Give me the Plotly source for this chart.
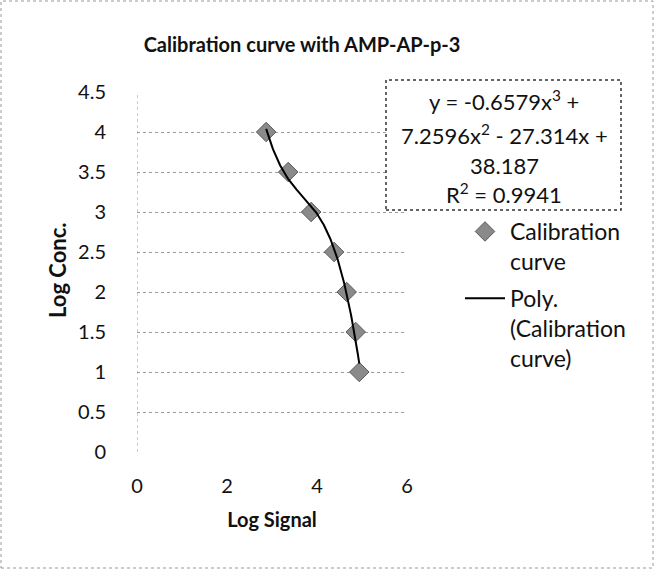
import numpy as np
import plotly.graph_objects as go

log_signal = [2.87, 3.36, 3.87, 4.38, 4.66, 4.86, 4.94]
log_conc = [4.0, 3.5, 3.0, 2.5, 2.0, 1.5, 1.0]
poly_coeffs = [-0.6579, 7.2596, -27.314, 38.187]
x_ticks = [0, 2, 4, 6]
y_ticks = [0, 0.5, 1, 1.5, 2, 2.5, 3, 3.5, 4, 4.5]
title = "Calibration curve with AMP-AP-p-3"
x_title = "Log Signal"
y_title = "Log Conc."
eq_lines = ["y = -0.6579x<sup>3</sup> +", "7.2596x<sup>2</sup> - 27.314x +", "38.187", "R<sup>2</sup> = 0.9941"]

FONT = "Lato, 'Open Sans', sans-serif"
W, H = 655, 570
L, R, T, B = 137, 248, 92, 118
pw, ph = W - L - R, H - T - B

def px2x(p):
    return (p - L) / pw

def py2y(p):
    return (H - B - p) / ph

xfit = np.linspace(min(log_signal), max(log_signal), 200)
yfit = np.polyval(poly_coeffs, xfit)

fig = go.Figure()
fig.add_trace(go.Scatter(
    x=log_signal, y=log_conc, mode="markers", name="Calibration<br>curve",
    legendgroup="a",
    marker=dict(symbol="diamond", size=15, color="#8a8a8a",
                line=dict(color="#5a5a5a", width=1)),
))
fig.add_trace(go.Scatter(
    x=xfit, y=yfit, mode="lines", name="Poly.<br>(Calibration<br>curve)",
    legendgroup="b",
    line=dict(color="black", width=2),
))

shapes = [
    dict(type="rect", xref="paper", yref="paper",
         x0=px2x(1), x1=px2x(653), y0=py2y(568), y1=py2y(1),
         line=dict(color="#999999", width=1, dash="dot"), layer="below"),
    dict(type="line", xref="x", yref="paper", x0=x_ticks[0], x1=x_ticks[0], y0=0, y1=1,
         line=dict(color="#999999", width=1, dash="dot")),
    dict(type="rect", xref="paper", yref="paper",
         x0=px2x(386), x1=px2x(621), y0=py2y(210), y1=py2y(80),
         line=dict(color="#333333", width=1.5, dash="dot"), fillcolor="white", layer="above"),
]

annotations = []
eq_y = [100, 134, 165, 193]
for txt, yy in zip(eq_lines, eq_y):
    annotations.append(dict(text=txt, xref="paper", yref="paper", x=px2x(504), y=py2y(yy),
                            xanchor="center", yanchor="middle", showarrow=False,
                            font=dict(family=FONT, size=22, color="#111111")))
annotations.append(dict(text="<b>" + y_title + "</b>", xref="paper", yref="paper",
                        x=px2x(57), y=py2y(270), textangle=-90, showarrow=False,
                        xanchor="center", yanchor="middle",
                        font=dict(family=FONT, size=22, color="#111111")))

fig.update_layout(
    width=W, height=H,
    margin=dict(l=L, r=R, t=T, b=B, pad=0),
    paper_bgcolor="white", plot_bgcolor="white",
    title=dict(text="<b>" + title + "</b>", x=302 / W, xanchor="center",
               y=1 - 45 / H, yanchor="middle",
               font=dict(family=FONT, size=20, color="#111111")),
    font=dict(family=FONT, size=20, color="#111111"),
    xaxis=dict(range=[0, 6], tickvals=x_ticks, showgrid=False, zeroline=False, showline=False,
               ticks="", ticklabelstandoff=20,
               title=dict(text="<b>" + x_title + "</b>", standoff=16, font=dict(size=20))),
    yaxis=dict(range=[0, 4.5], tickvals=y_ticks, showgrid=True, gridcolor="#9a9a9a",
               griddash="dot", gridwidth=1, zeroline=False, showline=False, ticks="",
               ticklabelstandoff=30),
    legend=dict(x=px2x(460), y=py2y(210), xanchor="left", yanchor="top", valign="top",
                font=dict(family=FONT, size=23, color="#111111"),
                bgcolor="rgba(0,0,0,0)", tracegroupgap=4, itemwidth=40),
    shapes=shapes, annotations=annotations,
)

fig.write_html("out.html", config={"displayModeBar": False},
               post_script="document.body.style.margin='0';")
